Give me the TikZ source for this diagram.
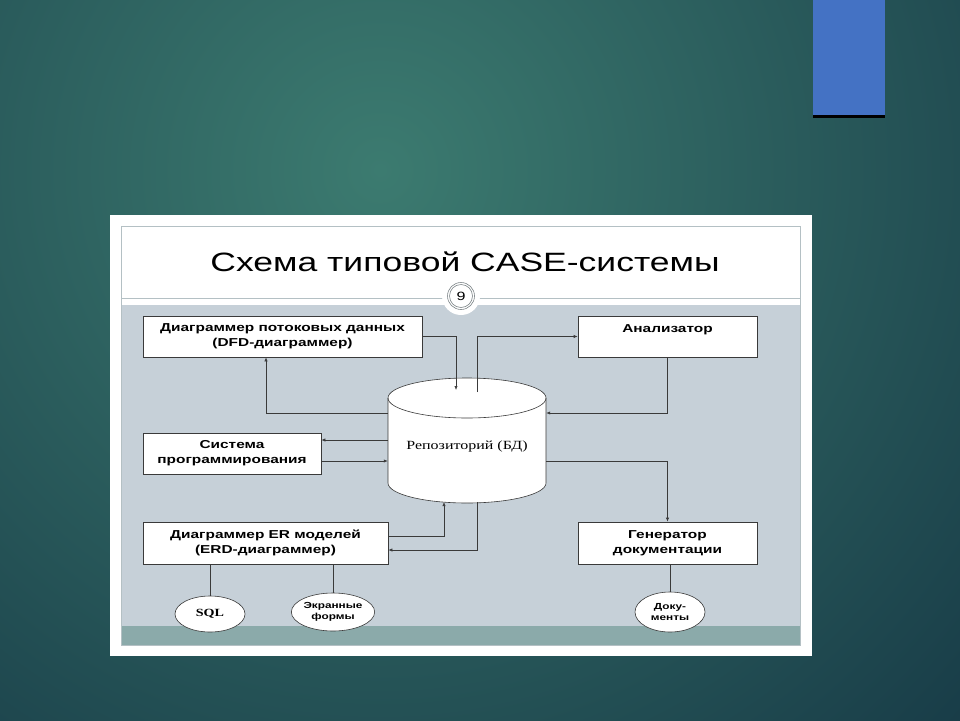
\documentclass[tikz,border=0pt]{standalone}
\usepackage{fontspec}
\usepackage{tikz}
\usetikzlibrary{arrows.meta}
\usetikzlibrary{shapes.geometric}
\usetikzlibrary{calc}

\newfontfamily\slidesans[FakeStretch=1.34]{Liberation Sans}
\newfontfamily\slideserif[FakeStretch=1.28]{Liberation Serif}

\definecolor{bginner}{HTML}{3C7B70}
\definecolor{bgouter}{HTML}{143543}
\definecolor{slidegrey}{HTML}{C6D0D8}
\definecolor{slidestrip}{HTML}{8BAAAA}
\definecolor{slideline}{HTML}{B4C0C4}
\definecolor{accentblue}{HTML}{4472C4}
\definecolor{inkgrey}{HTML}{3A3A3A}

\tikzset{
  box/.style={draw=inkgrey, line width=0.6pt, fill=white, inner sep=0pt,
    align=center, font=\slidesans\bfseries\fontsize{11.5}{15}\selectfont},
  oval/.style={ellipse, draw=inkgrey, line width=0.6pt, fill=white, inner sep=0pt,
    align=center, font=\slidesans\bfseries\fontsize{8.8}{11.5}\selectfont},
  repobox/.style={inner sep=0pt, minimum width=158pt, minimum height=125pt},
  arr/.style={draw=inkgrey, line width=0.6pt, -{Latex[length=4pt,width=3.2pt]}},
  link/.style={draw=inkgrey, line width=0.6pt}
}

\begin{document}
\begin{tikzpicture}[x=1pt,y=-1pt]
\useasboundingbox (0,0) rectangle (960,720);
\begin{scope}
\clip (0,0) rectangle (960,720);
\shade[inner color=bginner, outer color=bgouter] (380,170) circle (900);
\end{scope}

\fill[accentblue] (813,0) rectangle (885,115);
\fill[black] (813,115) rectangle (885,118);

% slide frame
\fill[white] (110,215) rectangle (812,656);
\draw[slideline, line width=0.6pt] (121,226) rectangle (800,645);
\fill[slidegrey] (121.5,305) rectangle (799.5,626);
\fill[slidestrip] (121.5,626) rectangle (799.5,644.5);
\draw[slideline, line width=0.8pt] (121,298) -- (800,298);
\node[font=\slidesans\fontsize{26.5}{30}\selectfont] (title) at (465,262) {Схема типовой CASE-системы};
\fill[white] (461,296) circle (19);
\draw[slideline!70!black, line width=0.6pt] (461,296) circle (13.5);
\draw[slideline!70!black, line width=0.6pt] (461,296) circle (11.5);
\node[font=\slidesans\fontsize{12}{14}\selectfont] (page) at (461,296) {9};

% repository cylinder
\node[repobox] (repo) at (467,440.5) {};
\draw[draw=inkgrey, line width=0.6pt, fill=white] (388,398) -- (388,483)
  arc[start angle=180, end angle=0, x radius=79, y radius=20] -- (546,398)
  arc[start angle=0, end angle=-180, x radius=79, y radius=20] -- cycle;
\draw[draw=inkgrey, line width=0.6pt] (388,398) arc[start angle=180, end angle=0, x radius=79, y radius=20];
\node[font=\slideserif\fontsize{12.5}{15}\selectfont] (repotext) at (467,446) {Репозиторий (БД)};

% blocks
\node[box, minimum width=279pt, minimum height=41pt] (dfd) at (282.5,336.5) {Диаграммер потоковых данных\\(DFD-диаграммер)};
\node[box, minimum width=179pt, minimum height=41pt] (anal) at (667.5,336.5) {Анализатор\\~};
\node[box, minimum width=178pt, minimum height=41pt] (sys) at (232,453.5) {Система\\программирования};
\node[box, minimum width=245pt, minimum height=42pt] (erd) at (265.5,543) {Диаграммер ER моделей\\(ERD-диаграммер)};
\node[box, minimum width=179pt, minimum height=42pt] (gen) at (667.5,543) {Генератор\\документации};

\node[oval, minimum width=70pt, minimum height=36pt, font=\slideserif\bfseries\fontsize{11}{13}\selectfont] (sql) at (210,614) {SQL};
\node[oval, minimum width=68pt, minimum height=38pt] (scr) at (333,612) {Экранные\\формы};
\node[oval, minimum width=70pt, minimum height=40pt] (docs) at (670,612) {Доку-\\менты};

% connectors
\coordinate (dfdin) at (456,390);
\coordinate (analout) at (477,392);
\coordinate (erdin) at (444,502);
\coordinate (erdout) at (477,502);
\draw[arr] (dfd.east) -| (dfdin);
\draw[arr] (analout) |- (anal.west);
\draw[arr] (anal.south) |- (repo.east |- 0,413);
\draw[arr] (repo.west |- 0,413) -| (dfd.south -| 266,0);
\draw[arr] (repo.west |- 0,440) -- (sys.east |- 0,440);
\draw[arr] (sys.east |- 0,461) -- (repo.west |- 0,461);
\draw[arr] (erd.east |- 0,536) -| (erdin);
\draw[arr] (erdout) |- (erd.east |- 0,550);
\draw[arr] (repo.east |- 0,461) -| (gen.north);

\draw[link] (sql.north |- erd.south) -- (sql.north);
\draw[link] (scr.north |- erd.south) -- (scr.north);
\draw[link] (gen.south -| docs.north) -- (docs.north);
\end{tikzpicture}
\end{document}
